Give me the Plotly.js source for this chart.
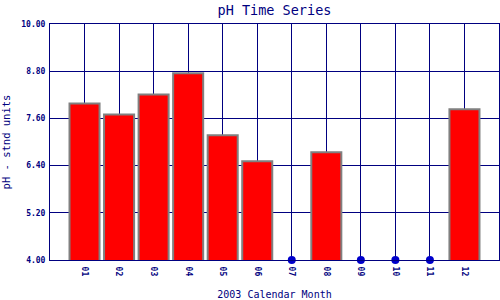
<!DOCTYPE html>
<html>
<head>
<meta charset="utf-8">
<script src="https://cdn.plot.ly/plotly-3.0.1.min.js"></script>
<style>html,body{margin:0;padding:0;background:#fff;}#chart{width:500px;height:300px;}</style>
</head>
<body>
<div id="chart"></div>
<script>
const months = [1, 2, 3, 4, 5, 6, 8, 12];
const phValues = [7.98, 7.70, 8.21, 8.75, 7.17, 6.51, 6.74, 7.83];
const missingMonths = [7, 9, 10, 11];
const missingValues = [4, 4, 4, 4];
const tickVals = [1, 2, 3, 4, 5, 6, 7, 8, 9, 10, 11, 12];
const tickLabels = ["01", "02", "03", "04", "05", "06", "07", "08", "09", "10", "11", "12"];
const yTicks = [4.0, 5.2, 6.4, 7.6, 8.8, 10.0];

const navy = "#000080";
const mono = "DejaVu Sans Mono, Liberation Mono, monospace";

const traces = [
  {
    type: "bar",
    x: months,
    y: phValues,
    width: 0.87,
    marker: {color: "#ff0000", line: {color: "#808080", width: 2}},
    hoverinfo: "none"
  },
  {
    type: "scatter",
    mode: "markers",
    x: missingMonths,
    y: missingValues,
    marker: {color: "#0000cc", size: 8},
    cliponaxis: false,
    hoverinfo: "none"
  }
];

const layout = {
  width: 500,
  height: 300,
  margin: {l: 50, r: 1, t: 24, b: 40},
  paper_bgcolor: "#ffffff",
  plot_bgcolor: "#ffffff",
  showlegend: false,
  title: {text: "pH Time Series", font: {family: mono, size: 13.5, color: navy}, x: 0.5, xanchor: "center", xref: "paper", y: 0.967, yanchor: "middle"},
  xaxis: {
    range: [0, 13],
    tickmode: "array",
    tickvals: tickVals,
    ticktext: tickLabels,
    tickangle: 90,
    tickfont: {family: mono, size: 8, color: navy, weight: "bold"},
    ticklabelstandoff: 4,
    showgrid: true,
    gridcolor: navy,
    gridwidth: 1,
    showline: true,
    linecolor: navy,
    linewidth: 1,
    mirror: true,
    zeroline: false,
    ticks: "",
    title: {text: "2003 Calendar Month", font: {family: mono, size: 10, color: navy}, standoff: 16}
  },
  yaxis: {
    range: [4, 10],
    tickmode: "array",
    tickvals: yTicks,
    tickformat: ".2f",
    tickfont: {family: mono, size: 8, color: navy, weight: "bold"},
    ticklabelstandoff: 2,
    showgrid: true,
    gridcolor: navy,
    gridwidth: 1,
    showline: true,
    linecolor: navy,
    linewidth: 1,
    mirror: true,
    zeroline: false,
    ticks: "",
    title: {text: "pH - stnd units", font: {family: mono, size: 10.5, color: navy}, standoff: 10}
  }
};

Plotly.newPlot("chart", traces, layout, {staticPlot: true, displayModeBar: false});
</script>
</body>
</html>
